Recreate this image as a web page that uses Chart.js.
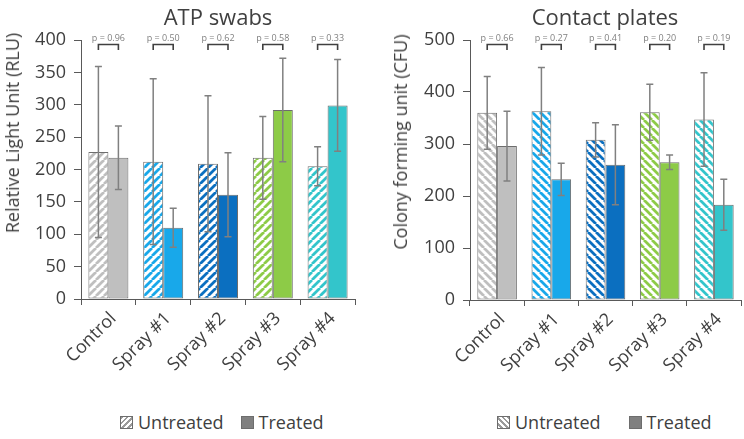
<!DOCTYPE html>
<html>
<head>
<meta charset="utf-8">
<script src="https://cdn.jsdelivr.net/npm/chart.js@4"></script>
<style>
  body { margin: 0; background: #fff; font-family: 'Open Sans', sans-serif; color: #404040; }
  .wrap { position: relative; width: 744px; height: 439px; }
  .panel { position: absolute; top: 0; height: 405px; }
  .title { position: absolute; transform: translate(-50%, -50%); font-size: 22px; white-space: nowrap; }
  .ytitle { position: absolute; transform: translate(-50%, -50%) rotate(-90deg); font-size: 18px; white-space: nowrap; }
  .legend { position: absolute; top: 410px; font-size: 18px; display: flex; align-items: center; white-space: nowrap; }
  .legend-item { display: inline-flex; align-items: center; }
  .legend-box { width: 11px; height: 11px; border: 1px solid #6d6d6d; margin-right: 5px; display: inline-block; }
</style>
</head>
<body>
<div class="wrap">
  <div class="panel" style="left:0;width:372px"><canvas id="atp"></canvas></div>
  <div class="panel" style="left:372px;width:372px"><canvas id="cfu"></canvas></div>

  <div class="title" style="left:218px;top:16px">ATP swabs</div>
  <div class="title" style="left:605px;top:16px">Contact plates</div>
  <div class="ytitle" style="left:12px;top:133px">Relative Light Unit (RLU)</div>
  <div class="ytitle" style="left:400px;top:142px">Colony forming unit (CFU)</div>

  <div class="legend" style="left:120px">
    <span class="legend-item"><span class="legend-box" style="background: repeating-linear-gradient(-45deg, #fff 0 2px, #9a9a9a 2px 4px)"></span>Untreated</span>
    <span class="legend-item" style="margin-left:17px"><span class="legend-box" style="background:#808080"></span>Treated</span>
  </div>
  <div class="legend" style="left:497px">
    <span class="legend-item"><span class="legend-box" style="background: repeating-linear-gradient(45deg, #fff 0 2px, #9a9a9a 2px 4px)"></span>Untreated</span>
    <span class="legend-item" style="margin-left:28px"><span class="legend-box" style="background:#808080"></span>Treated</span>
  </div>
</div>

<script>
const categories = ['Control', 'Spray #1', 'Spray #2', 'Spray #3', 'Spray #4']
const colors = ['#bfbfbf', '#18a8ea', '#0b6fc0', '#8dcb47', '#33c5cb']

// ATP swabs (RLU)
const atpUntreated = [227, 212, 209, 218, 205]
const atpUntreatedSd = [132, 128, 105, 64, 30]
const atpTreated = [218, 110, 161, 292, 299]
const atpTreatedSd = [49, 30, 65, 80, 71]
const atpP = ['0.96', '0.50', '0.62', '0.58', '0.33']

// Contact plates (CFU)
const cfuUntreated = [360, 363, 308, 361, 347]
const cfuUntreatedSd = [70, 84, 33, 54, 90]
const cfuTreated = [296, 232, 260, 265, 183]
const cfuTreatedSd = [67, 31, 77, 14, 49]
const cfuP = ['0.66', '0.27', '0.41', '0.20', '0.19']

const AXIS = '#595959'
const TEXT = '#404040'

function hatch(color, dir) {
  const c = document.createElement('canvas')
  c.width = 8; c.height = 8
  const g = c.getContext('2d')
  g.fillStyle = '#fff'
  g.fillRect(0, 0, 8, 8)
  g.strokeStyle = color
  g.lineWidth = 2.8
  g.beginPath()
  for (const o of [-8, 0, 8]) {
    if (dir === '/') { g.moveTo(o, 8); g.lineTo(o + 8, 0) }
    else { g.moveTo(o, 0); g.lineTo(o + 8, 8) }
  }
  g.stroke()
  return g.createPattern(c, 'repeat')
}

// error bars + p-value brackets
const extras = {
  id: 'extras',
  afterDatasetsDraw(chart, args, opts) {
    const ctx = chart.ctx
    const y = chart.scales.y
    ctx.save()
    ctx.strokeStyle = '#808080'
    ctx.lineWidth = 1.5
    chart.data.datasets.forEach((ds, i) => {
      chart.getDatasetMeta(i).data.forEach((bar, j) => {
        const v = ds.data[j], sd = ds.sd[j]
        const top = y.getPixelForValue(v + sd), bot = y.getPixelForValue(v - sd)
        ctx.beginPath()
        ctx.moveTo(bar.x, top); ctx.lineTo(bar.x, bot)
        ctx.moveTo(bar.x - 3.5, top); ctx.lineTo(bar.x + 3.5, top)
        ctx.moveTo(bar.x - 3.5, bot); ctx.lineTo(bar.x + 3.5, bot)
        ctx.stroke()
      })
    })
    const a = chart.getDatasetMeta(0).data, b = chart.getDatasetMeta(1).data
    const t = chart.chartArea.top
    ctx.strokeStyle = '#404040'
    ctx.lineWidth = 1.6
    ctx.fillStyle = '#808080'
    ctx.font = '9px "Open Sans"'
    ctx.textAlign = 'center'
    ctx.textBaseline = 'alphabetic'
    opts.p.forEach((p, j) => {
      ctx.beginPath()
      ctx.moveTo(a[j].x, t + 10); ctx.lineTo(a[j].x, t + 4.5)
      ctx.lineTo(b[j].x, t + 4.5); ctx.lineTo(b[j].x, t + 10)
      ctx.stroke()
      ctx.fillText('p = ' + p, (a[j].x + b[j].x) / 2, t + 1)
    })
    ctx.restore()
  }
}

function makeChart(id, untreated, untreatedSd, treated, treatedSd, pvals, dir, max, step, yWidth, xHeight, padRight) {
  return new Chart(document.getElementById(id), {
    type: 'bar',
    data: {
      labels: categories,
      datasets: [
        { label: 'Untreated', data: untreated, sd: untreatedSd, backgroundColor: colors.map(c => hatch(c, dir)), borderColor: '#6d6d6d', borderWidth: 1, borderSkipped: false },
        { label: 'Treated', data: treated, sd: treatedSd, backgroundColor: colors, borderColor: '#6d6d6d', borderWidth: 1, borderSkipped: false },
      ],
    },
    plugins: [extras],
    options: {
      responsive: true,
      maintainAspectRatio: false,
      animation: false,
      layout: { padding: { top: 40, right: padRight, left: 0, bottom: 0 } },
      datasets: { bar: { categoryPercentage: 0.73, barPercentage: 1.0 } },
      plugins: { legend: { display: false }, tooltip: { enabled: false }, extras: { p: pvals } },
      scales: {
        x: {
          grid: { drawOnChartArea: false, color: AXIS, tickLength: 6 },
          border: { color: AXIS, width: 1 },
          ticks: { color: TEXT, font: { family: 'Open Sans', size: 18 }, minRotation: 45, maxRotation: 45, autoSkip: false, padding: 3, labelOffset: 5 },
          afterFit: s => { s.height = xHeight },
        },
        y: {
          min: 0, max: max,
          grid: { drawOnChartArea: false, color: AXIS, tickLength: 7 },
          border: { color: AXIS, width: 1 },
          ticks: { stepSize: step, color: TEXT, font: { family: 'Open Sans', size: 18 }, padding: 8 },
          afterFit: s => { s.width = yWidth },
        },
      },
    },
  })
}

makeChart('atp', atpUntreated, atpUntreatedSd, atpTreated, atpTreatedSd, atpP, '/', 400, 50, 81, 106, 17)
makeChart('cfu', cfuUntreated, cfuUntreatedSd, cfuTreated, cfuTreatedSd, cfuP, '\\', 500, 100, 98, 105, 3)
</script>
</body>
</html>
